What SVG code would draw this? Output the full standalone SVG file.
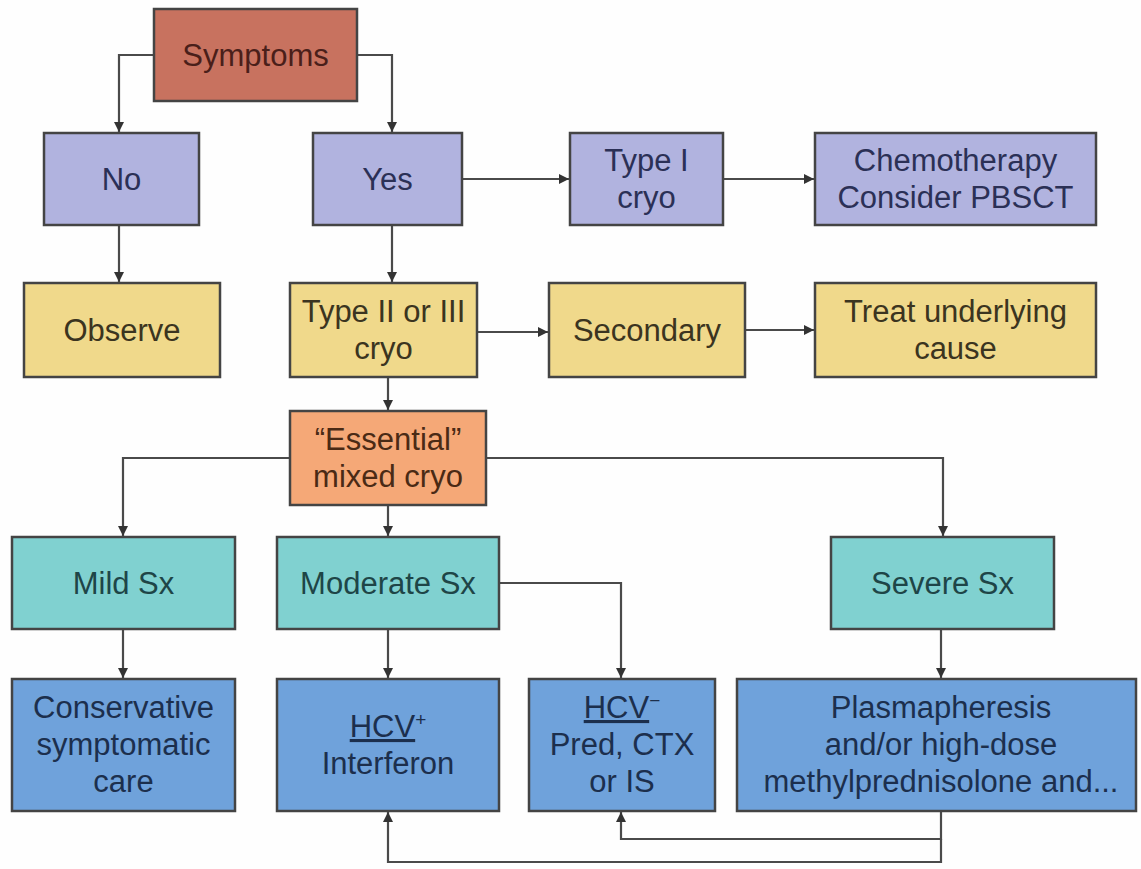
<svg xmlns="http://www.w3.org/2000/svg" width="1141" height="869" viewBox="0 0 1141 869">
<style>
  .box { stroke: #444; stroke-width: 2.5; }
  .red { fill: #c8725f; }
  .pur { fill: #b1b3df; }
  .yel { fill: #f0d98b; }
  .org { fill: #f5a877; }
  .teal { fill: #80d1d0; }
  .blue { fill: #6fa2db; }
  text { font-family: "Liberation Sans", Arial, sans-serif; font-size: 31px; text-anchor: middle; }
  .tred { fill: #4a1f1a; }
  .tpur { fill: #2b3056; }
  .tyel { fill: #3b3420; }
  .torg { fill: #4a2a15; }
  .tteal { fill: #1e4547; }
  .tblue { fill: #1c2f4d; }
  .conn { fill: none; stroke: #4a4a4a; stroke-width: 2.2; }
</style>
<defs>
  <marker id="arr" viewBox="0 0 10 10" refX="10" refY="5" markerWidth="10" markerHeight="10" markerUnits="userSpaceOnUse" orient="auto">
    <path d="M0,0 L10,5 L0,10 z" fill="#333"/>
  </marker>
</defs>
<rect x="0" y="0" width="1141" height="869" fill="#fefefe"/>

<g id="connectors">
  <path class="conn" d="M154,55 H119 V132" marker-end="url(#arr)"/>
  <path class="conn" d="M357,55 H392 V132" marker-end="url(#arr)"/>
  <path class="conn" d="M462,179 H569" marker-end="url(#arr)"/>
  <path class="conn" d="M723,179 H814" marker-end="url(#arr)"/>
  <path class="conn" d="M119,225 V282" marker-end="url(#arr)"/>
  <path class="conn" d="M392,225 V282" marker-end="url(#arr)"/>
  <path class="conn" d="M477,332 H548" marker-end="url(#arr)"/>
  <path class="conn" d="M745,330 H814" marker-end="url(#arr)"/>
  <path class="conn" d="M388,377 V410" marker-end="url(#arr)"/>
  <path class="conn" d="M290,458 H123 V536" marker-end="url(#arr)"/>
  <path class="conn" d="M388,505 V536" marker-end="url(#arr)"/>
  <path class="conn" d="M486,458 H943 V536" marker-end="url(#arr)"/>
  <path class="conn" d="M123,629 V678" marker-end="url(#arr)"/>
  <path class="conn" d="M388,629 V678" marker-end="url(#arr)"/>
  <path class="conn" d="M499,583 H621 V678" marker-end="url(#arr)"/>
  <path class="conn" d="M941,629 V678" marker-end="url(#arr)"/>
  <path class="conn" d="M941,811 V839 H621 V812" marker-end="url(#arr)"/>
  <path class="conn" d="M941,839 V862 H388 V812" marker-end="url(#arr)"/>
</g>

<g id="symptoms">
  <rect class="box red" x="154" y="9" width="203" height="92"/>
  <text class="tred" x="255.5" y="66">Symptoms</text>
</g>
<g id="no">
  <rect class="box pur" x="44" y="133" width="155" height="92"/>
  <text class="tpur" x="121.5" y="190">No</text>
</g>
<g id="yes">
  <rect class="box pur" x="313" y="133" width="149" height="92"/>
  <text class="tpur" x="387.5" y="190">Yes</text>
</g>
<g id="type1">
  <rect class="box pur" x="570" y="133" width="153" height="92"/>
  <text class="tpur" x="646.5" y="171">Type I</text>
  <text class="tpur" x="646.5" y="208">cryo</text>
</g>
<g id="chemo">
  <rect class="box pur" x="815" y="133" width="281" height="92"/>
  <text class="tpur" x="955.5" y="171">Chemotherapy</text>
  <text class="tpur" x="955.5" y="208">Consider PBSCT</text>
</g>
<g id="observe">
  <rect class="box yel" x="24" y="283" width="196" height="94"/>
  <text class="tyel" x="122" y="341">Observe</text>
</g>
<g id="type23">
  <rect class="box yel" x="290" y="283" width="187" height="94"/>
  <text class="tyel" x="383.5" y="322">Type II or III</text>
  <text class="tyel" x="383.5" y="359">cryo</text>
</g>
<g id="secondary">
  <rect class="box yel" x="549" y="283" width="196" height="94"/>
  <text class="tyel" x="647" y="341">Secondary</text>
</g>
<g id="treat">
  <rect class="box yel" x="815" y="283" width="281" height="94"/>
  <text class="tyel" x="955.5" y="322">Treat underlying</text>
  <text class="tyel" x="955.5" y="359">cause</text>
</g>
<g id="essential">
  <rect class="box org" x="290" y="411" width="196" height="94"/>
  <text class="torg" x="388" y="450">“Essential”</text>
  <text class="torg" x="388" y="487">mixed cryo</text>
</g>
<g id="mild">
  <rect class="box teal" x="12" y="537" width="223" height="92"/>
  <text class="tteal" x="123.5" y="594">Mild Sx</text>
</g>
<g id="moderate">
  <rect class="box teal" x="277" y="537" width="222" height="92"/>
  <text class="tteal" x="388" y="594">Moderate Sx</text>
</g>
<g id="severe">
  <rect class="box teal" x="831" y="537" width="223" height="92"/>
  <text class="tteal" x="942.5" y="594">Severe Sx</text>
</g>
<g id="conservative">
  <rect class="box blue" x="12" y="679" width="223" height="132"/>
  <text class="tblue" x="123.5" y="718">Conservative</text>
  <text class="tblue" x="123.5" y="755">symptomatic</text>
  <text class="tblue" x="123.5" y="792">care</text>
</g>
<g id="hcvpos">
  <rect class="box blue" x="277" y="679" width="222" height="132"/>
  <text class="tblue" x="388" y="737"><tspan text-decoration="underline">HCV</tspan><tspan font-size="19" dy="-11">+</tspan></text>
  <text class="tblue" x="388" y="774">Interferon</text>
</g>
<g id="hcvneg">
  <rect class="box blue" x="529" y="679" width="186" height="132"/>
  <text class="tblue" x="622" y="718"><tspan text-decoration="underline">HCV</tspan><tspan font-size="19" dy="-11">−</tspan></text>
  <text class="tblue" x="622" y="755">Pred, CTX</text>
  <text class="tblue" x="622" y="792">or IS</text>
</g>
<g id="plasma">
  <rect class="box blue" x="737" y="679" width="399" height="132"/>
  <text class="tblue" x="941" y="718">Plasmapheresis</text>
  <text class="tblue" x="941" y="755">and/or high-dose</text>
  <text class="tblue" x="941" y="792" font-size="31.5">methylprednisolone and...</text>
</g>
</svg>
